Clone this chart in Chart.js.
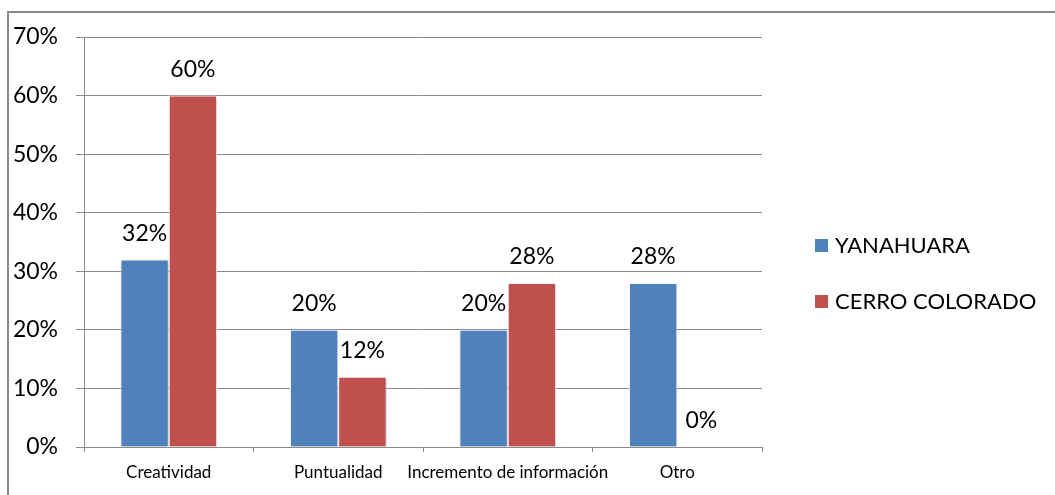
<!DOCTYPE html>
<html>
<head>
<meta charset="utf-8">
<script src="https://cdn.jsdelivr.net/npm/chart.js@4.4.1/dist/chart.umd.min.js"></script>
<style>
  html, body { margin: 0; padding: 0; background: #fff; }
  #wrap { position: absolute; left: 0; top: 0; width: 1055px; height: 495px; }
</style>
</head>
<body>
<div id="wrap"><canvas id="chart" width="1055" height="495"></canvas></div>
<script>
// datos del gráfico
const categorias = ['Creatividad', 'Puntualidad', 'Incremento de información', 'Otro'];
const yanahuara = [32, 20, 20, 28];
const cerroColorado = [60, 12, 28, 0];
const series = ['YANAHUARA', 'CERRO COLORADO'];
const colores = ['#4F81BD', '#C0504D'];
const FONT = 'Lato, "Open Sans", sans-serif';

// marco exterior y sombra de las barras
const marco = {
    id: 'marco',
    beforeDraw(chart) {
        const ctx = chart.ctx;
        ctx.save();
        ctx.strokeStyle = '#8a8a8a';
        ctx.lineWidth = 2;
        ctx.beginPath();
        ctx.moveTo(8, 495);
        ctx.lineTo(8, 12);
        ctx.lineTo(1055, 12);
        ctx.stroke();
        ctx.restore();
    },
    beforeDatasetsDraw(chart) {
        const ctx = chart.ctx;
        ctx.save();
        ctx.shadowColor = 'rgba(0,0,0,0.25)';
        ctx.shadowBlur = 3;
        ctx.shadowOffsetX = 1;
        ctx.shadowOffsetY = 1;
    },
    afterDatasetsDraw(chart) {
        chart.ctx.restore();
    }
};

// etiquetas de valor encima de cada barra
const etiquetas = {
    id: 'etiquetas',
    afterDatasetsDraw(chart) {
        const ctx = chart.ctx;
        ctx.save();
        ctx.font = '23px ' + FONT;
        ctx.fillStyle = '#000';
        ctx.textAlign = 'center';
        ctx.textBaseline = 'middle';
        chart.data.datasets.forEach((ds, i) => {
            chart.getDatasetMeta(i).data.forEach((bar, j) => {
                ctx.fillText(ds.data[j] + '%', bar.x, bar.y - 26);
            });
        });
        ctx.restore();
    }
};

// leyenda a la derecha
const leyenda = {
    id: 'leyenda',
    afterDraw(chart) {
        const ctx = chart.ctx;
        ctx.save();
        ctx.font = '22px ' + FONT;
        ctx.textBaseline = 'middle';
        const ys = [246, 302];
        chart.data.datasets.forEach((ds, i) => {
            ctx.fillStyle = ds.backgroundColor;
            ctx.fillRect(815, ys[i] - 7, 13, 13);
            ctx.fillStyle = '#000';
            ctx.fillText(ds.label, 835, ys[i]);
        });
        ctx.restore();
    }
};

new Chart(document.getElementById('chart'), {
    type: 'bar',
    data: {
        labels: categorias,
        datasets: [
            { label: series[0], data: yanahuara, backgroundColor: colores[0] },
            { label: series[1], data: cerroColorado, backgroundColor: colores[1] }
        ].map(d => Object.assign(d, {
            borderColor: '#ffffff',
            borderWidth: 1,
            categoryPercentage: 0.57,
            barPercentage: 1
        }))
    },
    options: {
        responsive: false,
        animation: false,
        layout: { padding: { left: 0, top: 37, right: 293, bottom: 0 } },
        plugins: { legend: { display: false }, tooltip: { enabled: false } },
        scales: {
            x: {
                afterFit(scale) { scale.height = 48; },
                grid: { drawOnChartArea: false, drawTicks: true, tickLength: 5, color: '#8a8a8a', offset: true },
                border: { color: '#8a8a8a', width: 1 },
                ticks: { color: '#000', font: { family: FONT, size: 17 }, padding: 10, maxRotation: 0, autoSkip: false }
            },
            y: {
                min: 0,
                max: 70,
                afterFit(scale) { scale.width = 84; },
                grid: { color: '#8a8a8a', lineWidth: 1, tickLength: 8 },
                border: { color: '#8a8a8a', width: 1 },
                ticks: {
                    stepSize: 10,
                    color: '#000',
                    padding: 18,
                    font: { family: FONT, size: 23 },
                    callback: v => v + '%'
                }
            }
        }
    },
    plugins: [marco, etiquetas, leyenda]
});
</script>
</body>
</html>
